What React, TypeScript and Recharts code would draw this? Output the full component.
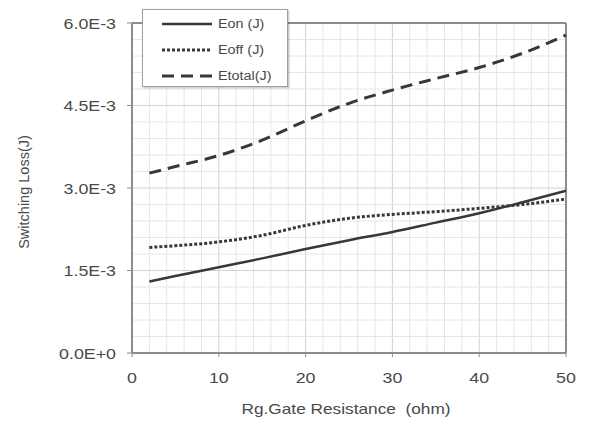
import { LineChart, Line, XAxis, YAxis, ReferenceLine } from 'recharts'

// gate resistance (ohm) and switching energies (J)
const rg = [2, 5, 10, 15, 20, 25, 30, 35, 40, 45, 50]
const eon = [1.30e-3, 1.40e-3, 1.56e-3, 1.72e-3, 1.89e-3, 2.05e-3, 2.20e-3, 2.37e-3, 2.54e-3, 2.74e-3, 2.95e-3]
const eoff = [1.92e-3, 1.95e-3, 2.02e-3, 2.14e-3, 2.32e-3, 2.45e-3, 2.52e-3, 2.57e-3, 2.63e-3, 2.70e-3, 2.80e-3]
const etotal = [3.27e-3, 3.39e-3, 3.59e-3, 3.87e-3, 4.22e-3, 4.54e-3, 4.78e-3, 4.99e-3, 5.19e-3, 5.45e-3, 5.78e-3]

const xTicks = [0, 10, 20, 30, 40, 50]
const yTicks = [0, 1.5e-3, 3.0e-3, 4.5e-3, 6.0e-3]
const xGrid = Array.from({ length: 24 }, (_, i) => (i + 1) * 2)
const yGrid = Array.from({ length: 19 }, (_, i) => (i + 1) * 0.3e-3)

const SERIES = [
  { key: 'eon', label: 'Eon (J)', dash: undefined, width: 2.5 },
  { key: 'eoff', label: 'Eoff (J)', dash: '3 2', width: 3 },
  { key: 'etotal', label: 'Etotal(J)', dash: '12 7', width: 3 },
]

const data = rg.map((x, i) => ({ rg: x, eon: eon[i], eoff: eoff[i], etotal: etotal[i] }))

const TEXT = '#4a4a4a'
const AXIS = '#8c8c8c'
const LINE = '#383838'
const FONT = '"Liberation Sans", Arial, sans-serif'

const fmtY = (v: number) => (v === 0 ? '0.0E+0' : `${(v * 1000).toFixed(1)}E-3`)

const XTick = (p: any) => (
  <text transform={`translate(${p.x},${p.y}) scale(1.15,1)`} textAnchor="middle" dy="0.72em"
    fontSize={15.5} fill={TEXT} fontFamily={FONT}>
    {p.payload.value}
  </text>
)

const YTick = (p: any) => (
  <text transform={`translate(${p.x},${p.y}) scale(1.15,1)`} textAnchor="end" dy="0.36em"
    fontSize={15.5} fill={TEXT} fontFamily={FONT}>
    {fmtY(p.payload.value)}
  </text>
)

export default function App() {
  return (
    <div style={{ position: 'absolute', left: 0, top: 0, width: 589, height: 424, background: '#fff', fontFamily: FONT }}>
      <LineChart width={589} height={424} data={data} margin={{ top: 23, right: 23, bottom: 0, left: 0 }}>
        {xGrid.map(v => (
          <ReferenceLine key={'gx' + v} x={v} stroke={v % 10 === 0 ? '#d2d2d2' : '#e6e6e6'} strokeWidth={1} />
        ))}
        {yGrid.map((v, i) => (
          <ReferenceLine key={'gy' + i} y={v} stroke={(i + 1) % 5 === 0 ? '#d2d2d2' : '#e6e6e6'} strokeWidth={1} />
        ))}
        <ReferenceLine x={50} stroke={AXIS} strokeWidth={2} />
        <ReferenceLine y={6.0e-3} stroke={AXIS} strokeWidth={2} />
        <XAxis dataKey="rg" type="number" domain={[0, 50]} ticks={xTicks} height={71}
          axisLine={{ stroke: AXIS, strokeWidth: 2 }} tickLine={{ stroke: AXIS }} tickSize={4} tickMargin={15}
          tick={<XTick />} interval={0} />
        <YAxis type="number" domain={[0, 6.0e-3]} ticks={yTicks} width={132}
          axisLine={{ stroke: AXIS, strokeWidth: 2 }} tickLine={{ stroke: AXIS }} tickSize={5} tickMargin={11}
          tick={<YTick />} interval={0} />
        {SERIES.map(s => (
          <Line key={s.key} dataKey={s.key} type="monotone" stroke={LINE} strokeWidth={s.width}
            strokeDasharray={s.dash} dot={false} activeDot={false} isAnimationActive={false} />
        ))}
      </LineChart>

      <div style={{ position: 'absolute', left: 24, top: 192, transform: 'translate(-50%,-50%) rotate(-90deg)', whiteSpace: 'nowrap', fontSize: 14.5, color: TEXT }}>
        Switching Loss(J)
      </div>
      <div style={{ position: 'absolute', left: 346, top: 408, transform: 'translate(-50%,-50%) scaleX(1.15)', whiteSpace: 'pre', fontSize: 15, color: TEXT }}>
        {'Rg.Gate Resistance  (ohm)'}
      </div>

      <div style={{ position: 'absolute', left: 142, top: 9, width: 146, height: 78, boxSizing: 'border-box', background: '#fff', border: '1px solid #a0a0a0', boxShadow: '1px 1px 2px rgba(0,0,0,0.25)' }}>
        {SERIES.map((s, i) => (
          <div key={s.key} style={{ position: 'absolute', left: 0, top: 14 + i * 26, height: 0 }}>
            <svg width={52} height={6} style={{ position: 'absolute', left: 19, top: -3 }}>
              <line x1={0} y1={3} x2={50} y2={3} stroke={LINE} strokeWidth={s.width} strokeDasharray={s.dash} />
            </svg>
            <div style={{ position: 'absolute', left: 75, top: -8, fontSize: 12, lineHeight: '16px', whiteSpace: 'nowrap', color: TEXT, transform: 'scaleX(1.2)', transformOrigin: 'left center' }}>
              {s.label}
            </div>
          </div>
        ))}
      </div>
    </div>
  )
}
